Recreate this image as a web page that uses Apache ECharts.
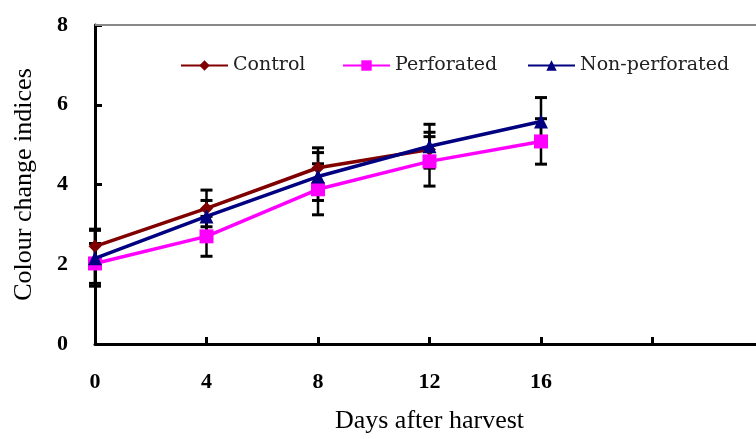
<!DOCTYPE html>
<html>
<head>
<meta charset="utf-8">
<script src="https://cdn.jsdelivr.net/npm/echarts@6/dist/echarts.min.js"></script>
<style>
    html, body { margin: 0; padding: 0; background: #fff; overflow: hidden; }
    #chart { width: 770px; height: 439px; }
</style>
</head>
<body>
<div id="chart"></div>
<script>
// data
var days = [0, 4, 8, 12, 16];
var control = [2.45, 3.4, 4.42, 4.88, null];
var controlErr = [0.43, 0.46, 0.5, 0.43, null];
var perforated = [2.02, 2.7, 3.88, 4.58, 5.08];
var perforatedErr = [0.5, 0.5, 0.64, 0.62, 0.57];
var nonPerforated = [2.15, 3.2, 4.2, 4.96, 5.58];
var nonPerforatedErr = [0.7, 0.4, 0.6, 0.55, 0.6];
var xTicks = [0, 4, 8, 12, 16];

function pairs(vals) {
    var out = [];
    for (var i = 0; i < days.length; i++) {
        if (vals[i] != null) out.push([days[i], vals[i]]);
    }
    return out;
}
function errData(vals, errs) {
    var out = [];
    for (var i = 0; i < days.length; i++) {
        if (vals[i] != null) out.push([days[i], vals[i] - errs[i], vals[i] + errs[i]]);
    }
    return out;
}
function renderErr(params, api) {
    var lo = api.coord([api.value(0), api.value(1)]);
    var hi = api.coord([api.value(0), api.value(2)]);
    var w = 6;
    var cap = { stroke: '#000', lineWidth: 3 };
    return {
        type: 'group',
        children: [
            { type: 'line', shape: { x1: lo[0], y1: lo[1], x2: hi[0], y2: hi[1] }, style: { stroke: '#000', lineWidth: 2.5 } },
            { type: 'line', shape: { x1: lo[0] - w, y1: lo[1], x2: lo[0] + w, y2: lo[1] }, style: cap },
            { type: 'line', shape: { x1: hi[0] - w, y1: hi[1], x2: hi[0] + w, y2: hi[1] }, style: cap }
        ]
    };
}
function errSeries(vals, errs) {
    return {
        type: 'custom',
        renderItem: renderErr,
        data: errData(vals, errs),
        z: 1,
        silent: true,
        encode: { x: 0, y: [1, 2] }
    };
}
function legendAt(name, left) {
    return {
        top: 51,
        left: left,
        itemWidth: 47,
        itemHeight: 13,
        textStyle: { fontFamily: '"DejaVu Serif", serif', fontSize: 19, color: '#222' },
        data: [name]
    };
}

var chart = echarts.init(document.getElementById('chart'));
var serif = '"Liberation Serif", "Times New Roman", serif';

chart.setOption({
    animation: false,
    // plot area runs past the right edge of the 756px picture, as in the original crop
    grid: { left: 95, top: 25, bottom: 86, right: 6 },
    legend: [
        legendAt('Control', 175),
        legendAt('Perforated', 337),
        legendAt('Non-perforated', 522)
    ],
    xAxis: {
        type: 'value',
        min: 0, max: 24, interval: 4,
        name: 'Days after harvest',
        nameLocation: 'middle',
        nameGap: 64,
        nameTextStyle: { fontFamily: serif, fontSize: 26, color: '#000' },
        axisLine: { lineStyle: { color: '#000', width: 3 } },
        axisTick: { inside: true, length: 7, lineStyle: { color: '#000', width: 3 } },
        axisLabel: {
            margin: 27,
            fontFamily: serif, fontSize: 22, fontWeight: 'bold', color: '#000',
            formatter: function (v) { return xTicks.indexOf(v) >= 0 ? String(v) : ''; }
        },
        splitLine: { show: false }
    },
    yAxis: {
        type: 'value',
        min: 0, max: 8, interval: 2,
        name: 'Colour change indices',
        nameLocation: 'middle',
        nameGap: 58,
        nameTextStyle: { fontFamily: serif, fontSize: 26, color: '#000' },
        axisLine: { show: true, lineStyle: { color: '#000', width: 3 } },
        axisTick: { show: true, inside: true, length: 7, lineStyle: { color: '#000', width: 3 } },
        axisLabel: { margin: 27, fontFamily: serif, fontSize: 22, fontWeight: 'bold', color: '#000' },
        splitLine: { show: false }
    },
    series: [
        errSeries(control, controlErr),
        errSeries(perforated, perforatedErr),
        errSeries(nonPerforated, nonPerforatedErr),
        {
            name: 'Control', type: 'line', data: pairs(control),
            symbol: 'diamond', symbolSize: 13, z: 3,
            lineStyle: { color: '#800000', width: 3.5 },
            itemStyle: { color: '#800000' },
            // top frame of the plot area
            markLine: {
                silent: true, symbol: 'none', label: { show: false },
                lineStyle: { color: '#888', width: 2, type: 'solid' },
                data: [{ yAxis: 8 }]
            }
        },
        {
            name: 'Perforated', type: 'line', data: pairs(perforated),
            symbol: 'rect', symbolSize: 14, z: 4,
            lineStyle: { color: '#ff00ff', width: 3.5 },
            itemStyle: { color: '#ff00ff' }
        },
        {
            name: 'Non-perforated', type: 'line', data: pairs(nonPerforated),
            symbol: 'triangle', symbolSize: 14, z: 5,
            lineStyle: { color: '#000080', width: 3.5 },
            itemStyle: { color: '#000080' }
        }
    ]
});
</script>
</body>
</html>
